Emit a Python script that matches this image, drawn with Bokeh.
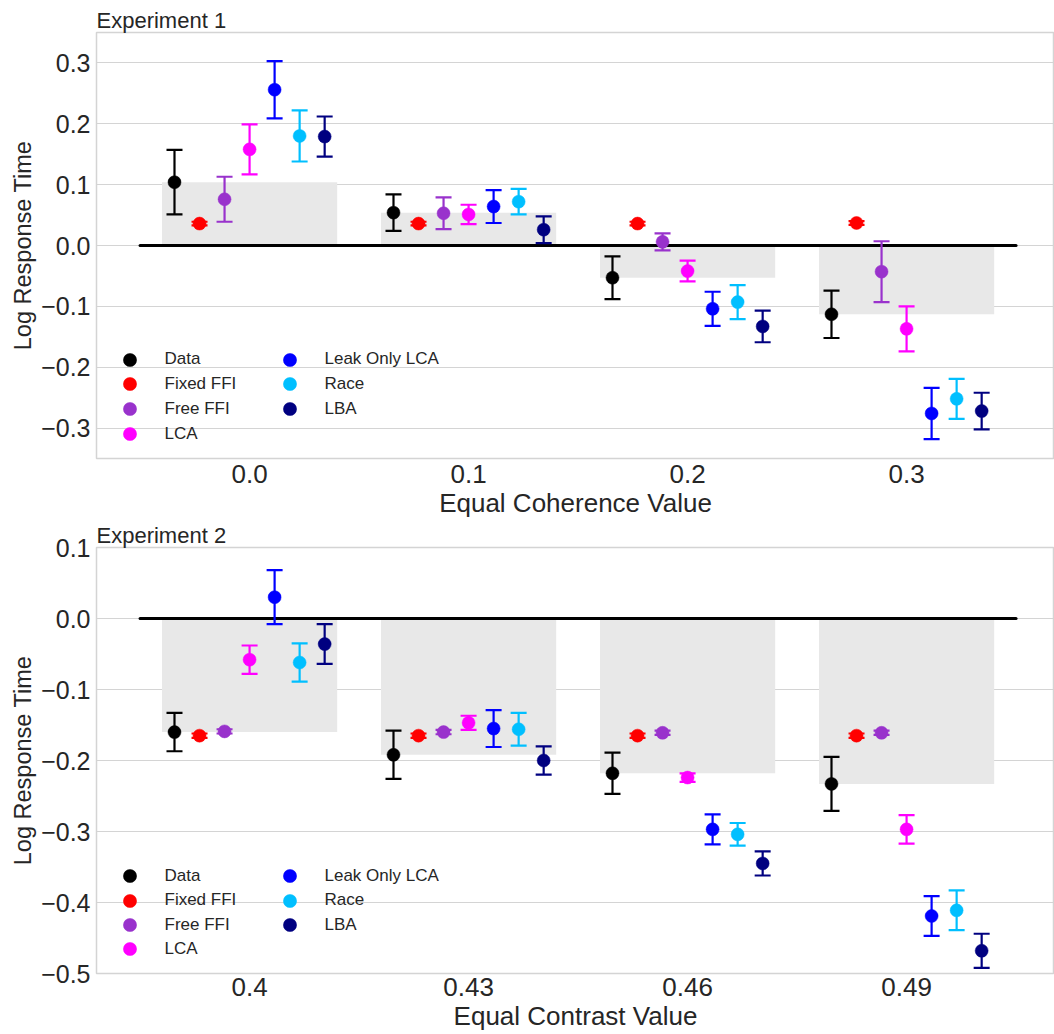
from bokeh.plotting import figure
from bokeh.models import (Range1d, FixedTicker, CustomJSTickFormatter, Legend,
                          LegendItem, ColumnDataSource)
from bokeh.layouts import column
from bokeh.embed import file_html
from bokeh.resources import INLINE

# ---------------- data ----------------
series_names = ["Data", "Fixed FFI", "Free FFI", "LCA", "Leak Only LCA", "Race", "LBA"]
series_colors = ["#000000", "#FF0000", "#9932CC", "#FF00FF", "#0000FF", "#00BFFF", "#000080"]

# Experiment 1 (Equal Coherence Value)
exp1_ticks = ["0.0", "0.1", "0.2", "0.3"]
exp1_data = [0.104, 0.054, -0.053, -0.113]
exp1_data_err = [0.053, 0.030, 0.035, 0.039]
exp1_fixed = [0.036, 0.036, 0.036, 0.037]
exp1_fixed_err = [0.003, 0.003, 0.003, 0.003]
exp1_free = [0.076, 0.053, 0.006, -0.043]
exp1_free_err = [0.037, 0.026, 0.014, 0.050]
exp1_lca = [0.158, 0.051, -0.042, -0.137]
exp1_lca_err = [0.041, 0.016, 0.017, 0.037]
exp1_leak = [0.256, 0.064, -0.104, -0.276]
exp1_leak_err = [0.047, 0.027, 0.028, 0.042]
exp1_race = [0.180, 0.072, -0.093, -0.252]
exp1_race_err = [0.042, 0.021, 0.028, 0.033]
exp1_lba = [0.179, 0.026, -0.133, -0.272]
exp1_lba_err = [0.033, 0.022, 0.026, 0.030]

# Experiment 2 (Equal Contrast Value)
exp2_ticks = ["0.4", "0.43", "0.46", "0.49"]
exp2_data = [-0.160, -0.192, -0.218, -0.233]
exp2_data_err = [0.027, 0.034, 0.029, 0.038]
exp2_fixed = [-0.165, -0.165, -0.165, -0.165]
exp2_fixed_err = [0.003, 0.003, 0.003, 0.003]
exp2_free = [-0.159, -0.160, -0.161, -0.161]
exp2_free_err = [0.003, 0.003, 0.003, 0.003]
exp2_lca = [-0.058, -0.147, -0.224, -0.297]
exp2_lca_err = [0.020, 0.010, 0.006, 0.020]
exp2_leak = [0.030, -0.155, -0.297, -0.419]
exp2_leak_err = [0.038, 0.026, 0.021, 0.028]
exp2_race = [-0.062, -0.156, -0.304, -0.411]
exp2_race_err = [0.027, 0.023, 0.016, 0.028]
exp2_lba = [-0.036, -0.200, -0.345, -0.468]
exp2_lba_err = [0.028, 0.020, 0.017, 0.024]

exp1_means = [exp1_data, exp1_fixed, exp1_free, exp1_lca, exp1_leak, exp1_race, exp1_lba]
exp1_errs = [exp1_data_err, exp1_fixed_err, exp1_free_err, exp1_lca_err,
             exp1_leak_err, exp1_race_err, exp1_lba_err]
exp2_means = [exp2_data, exp2_fixed, exp2_free, exp2_lca, exp2_leak, exp2_race, exp2_lba]
exp2_errs = [exp2_data_err, exp2_fixed_err, exp2_free_err, exp2_lca_err,
             exp2_leak_err, exp2_race_err, exp2_lba_err]

# ---------------- style ----------------
FONT = "Liberation Sans"
TXT = "#262626"
GRID = "#d4d4d4"
BAR = "#e8e8e8"
GROUP_W = 0.8
PX_PER_CAT = 219.0


def make_panel(title, tick_labels, means, errs, xlabel, y_lo, y_hi, y_ticks,
               height, border_top, frame_h, leg_center0, leg_pitch, xlab_standoff):
    n = len(tick_labels)
    width = 1054
    left = 96
    x0 = -0.699
    x1 = x0 + (width - left) / PX_PER_CAT
    p = figure(width=width, height=height,
               x_range=Range1d(x0, x1),
               y_range=Range1d(y_lo, y_hi),
               output_backend="svg", toolbar_location=None,
               min_border_left=left, min_border_right=0,
               min_border_top=border_top,
               min_border_bottom=height - border_top - frame_h,
               title=title)
    p.title.text_font = FONT
    p.title.text_font_size = "22px"
    p.title.text_font_style = "normal"
    p.title.text_color = TXT
    p.title.align = "left"
    p.title.offset = 0
    p.title.standoff = 0

    p.background_fill_color = "white"
    p.border_fill_color = "white"
    p.outline_line_color = GRID
    p.outline_line_width = 1.5

    p.xgrid.visible = False
    p.ygrid.grid_line_color = GRID
    p.ygrid.grid_line_width = 1.2

    p.yaxis.ticker = FixedTicker(ticks=y_ticks)
    p.yaxis.formatter = CustomJSTickFormatter(
        code="return (tick < -1e-9 ? '\u2212' : '') + Math.abs(tick).toFixed(1);")
    p.xaxis.ticker = FixedTicker(ticks=list(range(n)))
    p.xaxis.major_label_overrides = {i: lab for i, lab in enumerate(tick_labels)}

    for ax in (p.xaxis, p.yaxis):
        ax.axis_line_color = None
        ax.major_tick_line_color = None
        ax.minor_tick_line_color = None
        ax.major_tick_out = 0
        ax.major_tick_in = 0
        ax.minor_tick_out = 0
        ax.minor_tick_in = 0
        ax.major_label_text_font = FONT
        ax.major_label_text_color = TXT
        ax.axis_label_text_font = FONT
        ax.axis_label_text_font_style = "normal"
        ax.axis_label_text_color = TXT
    p.xaxis.axis_label = xlabel
    p.xaxis.major_label_text_font_size = "26px"
    p.xaxis.axis_label_text_font_size = "26px"
    p.xaxis.major_label_standoff = xlab_standoff
    p.xaxis.axis_label_standoff = 2
    p.yaxis.axis_label = "Log Response Time"
    p.yaxis.major_label_text_font_size = "25px"
    p.yaxis.axis_label_text_font_size = "23.5px"
    p.yaxis.major_label_standoff = 6
    p.yaxis.axis_label_standoff = 2

    centers = list(range(n))
    # grey bars showing the data value
    p.vbar(x=centers, top=means[0], bottom=0, width=GROUP_W,
           fill_color=BAR, line_color=None)
    # zero reference line across the groups
    p.segment(x0=[-0.5], x1=[n - 0.5], y0=[0], y1=[0],
              line_color="black", line_width=3, line_cap="round")

    step = GROUP_W / len(series_names)
    marker_renderers = []
    for k, (name, color) in enumerate(zip(series_names, series_colors)):
        xs = [c - GROUP_W / 2 + step * (k + 0.5) for c in centers]
        m = means[k]
        e = errs[k]
        src = ColumnDataSource(dict(
            x=xs, y=m,
            upper=[a + b for a, b in zip(m, e)],
            lower=[a - b for a, b in zip(m, e)]))
        p.segment(x0="x", x1="x", y0="lower", y1="upper", source=src,
                  line_color=color, line_width=2.2)
        p.scatter(x="x", y="upper", source=src, marker="dash", size=16,
                  line_color=color, line_width=2.2)
        p.scatter(x="x", y="lower", source=src, marker="dash", size=16,
                  line_color=color, line_width=2.2)
        r = p.scatter(x="x", y="y", source=src, marker="circle", size=13,
                      fill_color=color, line_color=color, line_width=0.5)
        marker_renderers.append(r)

    # legend: two columns (4 + 3 entries), one Legend per entry for exact spacing
    GH = 33
    col_x = [16.5, 176.5]
    for k in range(len(series_names)):
        col = 0 if k < 4 else 1
        row = k if k < 4 else k - 4
        cy = leg_center0 - row * leg_pitch
        lg = Legend(items=[LegendItem(label=series_names[k],
                                      renderers=[marker_renderers[k]])],
                    location=(col_x[col], cy - GH / 2),
                    glyph_width=GH, glyph_height=GH, spacing=0,
                    padding=0, margin=0, label_standoff=19,
                    label_text_font=FONT, label_text_font_size="17px",
                    label_text_color=TXT, label_height=20,
                    border_line_alpha=0, background_fill_alpha=0)
        p.add_layout(lg)
    return p


p1 = make_panel("Experiment 1", exp1_ticks, exp1_means, exp1_errs,
                "Equal Coherence Value", -0.35, 0.35,
                [-0.3, -0.2, -0.1, 0.0, 0.1, 0.2, 0.3],
                height=520, border_top=32, frame_h=428,
                leg_center0=99.0, leg_pitch=24.9, xlab_standoff=6)
p2 = make_panel("Experiment 2", exp2_ticks, exp2_means, exp2_errs,
                "Equal Contrast Value", -0.5, 0.1,
                [-0.5, -0.4, -0.3, -0.2, -0.1, 0.0, 0.1],
                height=514, border_top=26, frame_h=427,
                leg_center0=97.3, leg_pitch=24.4, xlab_standoff=4)

layout = column(p1, p2, spacing=0)
open("out.html", "w").write(file_html(layout, INLINE))
